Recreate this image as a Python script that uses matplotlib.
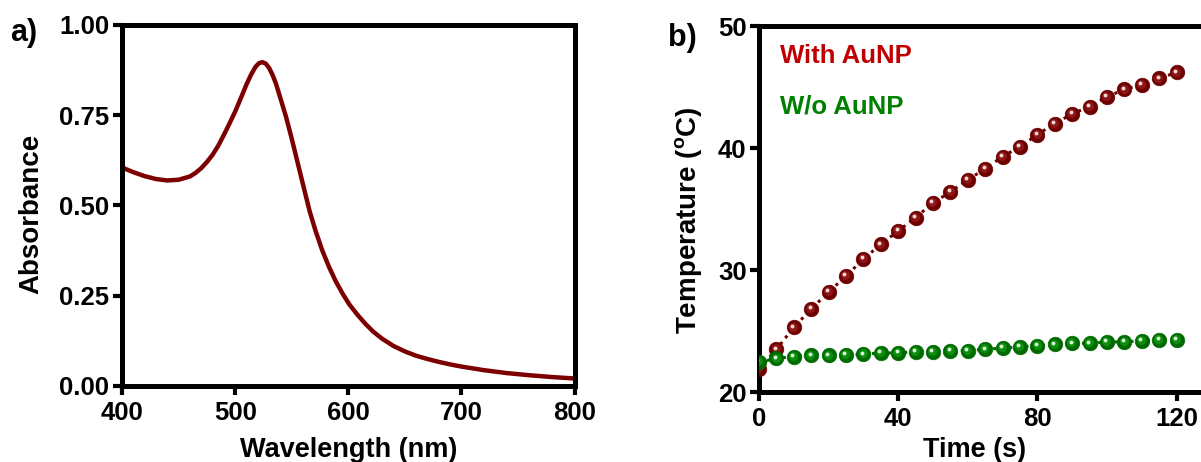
import matplotlib
matplotlib.use("Agg")
import matplotlib.pyplot as plt
import matplotlib.transforms as mtransforms

plt.rcParams['font.family'] = ['Liberation Sans', 'DejaVu Sans']
plt.rcParams['font.weight'] = 'bold'
plt.rcParams['mathtext.fontset'] = 'custom'
plt.rcParams['mathtext.rm'] = 'Liberation Sans:bold'

# ---------------- data ----------------
wavelength = [400, 410, 420, 430, 440, 450, 460, 465, 470, 475, 480, 485, 490, 495,
              500, 505, 510, 514, 518, 521, 524, 527, 530, 533, 536, 540, 545, 550,
              554, 558, 562, 566, 571, 577, 583, 589, 595, 601, 608, 615, 622, 630,
              640, 650, 660, 670, 680, 690, 700, 720, 740, 760, 780, 800]
absorbance = [0.605, 0.592, 0.581, 0.573, 0.569, 0.571, 0.580, 0.590, 0.603, 0.620,
              0.640, 0.665, 0.695, 0.727, 0.760, 0.797, 0.835, 0.862, 0.884, 0.894,
              0.897, 0.893, 0.881, 0.862, 0.838, 0.797, 0.745, 0.685, 0.634, 0.583,
              0.532, 0.482, 0.430, 0.375, 0.329, 0.289, 0.255, 0.225, 0.197, 0.172,
              0.150, 0.130, 0.110, 0.095, 0.083, 0.074, 0.066, 0.059, 0.053, 0.043,
              0.035, 0.029, 0.024, 0.020]

time_s = [0, 5, 10, 15, 20, 25, 30, 35, 40, 45, 50, 55, 60, 65, 70, 75, 80, 85,
          90, 95, 100, 105, 110, 115, 120]
temp_with = [21.9, 23.5, 25.3, 26.8, 28.2, 29.5, 30.9, 32.1, 33.2, 34.3, 35.5, 36.4,
             37.4, 38.3, 39.3, 40.1, 41.1, 42.0, 42.8, 43.4, 44.2, 44.8, 45.2, 45.7, 46.2]
temp_without = [22.45, 22.75, 22.9, 23.0, 23.0, 23.05, 23.1, 23.2, 23.2, 23.3, 23.3,
                23.4, 23.4, 23.5, 23.6, 23.7, 23.8, 23.9, 24.0, 24.0, 24.1, 24.1,
                24.2, 24.25, 24.25]

a_xticks = [400, 500, 600, 700, 800]
a_yticks = [0.00, 0.25, 0.50, 0.75, 1.00]
b_xticks = [0, 40, 80, 120]
b_yticks = [20, 30, 40, 50]

# ---------------- figure ----------------
W, H = 1201, 462
fig = plt.figure(figsize=(W / 100, H / 100), dpi=100)

def px_axes(l, r, t, b):
    return fig.add_axes([l / W, (H - b) / H, (r - l) / W, (b - t) / H])

ax_a = px_axes(122, 574.6, 25, 385.7)
ax_b = px_axes(759, 1205, 26, 392)

for ax in (ax_a, ax_b):
    for s in ax.spines.values():
        s.set_linewidth(3.6)
    ax.tick_params(direction='out', length=6.5, width=3, labelsize=18.5,
                   top=False, right=False)
    ax.tick_params(axis='x', pad=4.5)
    ax.tick_params(axis='y', pad=2.5)

# Panel a
ax_a.plot(wavelength, absorbance, color='#7d0000', lw=3.2,
          solid_joinstyle='round', solid_capstyle='butt')
ax_a.set_xlim(400, 800)
ax_a.set_ylim(0, 1)
ax_a.set_xticks(a_xticks)
ax_a.set_yticks(a_yticks)
ax_a.set_yticklabels([f"{v:.2f}" for v in a_yticks])
ax_a.set_xlabel('Wavelength (nm)', fontsize=19.5, fontweight='bold', va='top')
ax_a.set_ylabel('Absorbance', fontsize=20, fontweight='bold')
ax_a.xaxis.set_label_coords(0.5, (385.7 - 437) / 360.7)
ax_a.yaxis.set_label_coords((44 - 122) / 452.6, 0.476)

# Panel b
ax_b.spines['right'].set_visible(False)
ax_b.set_xlim(0, 446 / 3.48)
ax_b.set_ylim(20, 50)
ax_b.set_xticks(b_xticks)
ax_b.set_yticks(b_yticks)


def sphere(ax, x, y, dark, mid, light, z):
    ax.plot(x, y, ls=':', color=dark, lw=2.2, zorder=z)
    ax.plot(x, y, ls='none', marker='o', ms=10.5, mfc=dark, mec=dark, mew=0.5, zorder=z + 0.1)
    off1 = mtransforms.offset_copy(ax.transData, fig=fig, x=-0.6, y=0.6, units='points')
    ax.plot(x, y, ls='none', marker='o', ms=6.5, mfc=mid, mec='none', zorder=z + 0.2,
            transform=off1)
    off2 = mtransforms.offset_copy(ax.transData, fig=fig, x=-1.2, y=1.2, units='points')
    ax.plot(x, y, ls='none', marker='o', ms=2.8, mfc=light, mec='none', zorder=z + 0.3,
            transform=off2)

sphere(ax_b, time_s, temp_with, '#6e0000', '#8e1616', '#f2d6d6', 3)
sphere(ax_b, time_s, temp_without, '#006a00', '#0c8f0c', '#d8f2d8', 4)

ax_b.set_xlabel('Time (s)', fontsize=19.5, fontweight='bold', va='top')
ax_b.set_ylabel(r'Temperature ($\mathregular{^o}$C)', fontsize=20, fontweight='bold')
ax_b.xaxis.set_label_coords((975 - 759) / 446, (392 - 437) / 366)
ax_b.yaxis.set_label_coords((704 - 759) / 446, 0.47)

fig.text(780 / W, 1 - 56 / H, 'With AuNP', color='#c00000', fontsize=18.5,
         fontweight='bold', ha='left', va='center')
fig.text(780 / W, 1 - 106 / H, 'W/o AuNP', color='#008000', fontsize=18.5,
         fontweight='bold', ha='left', va='center')

fig.text(10 / W, 1 - 33 / H, 'a)', fontsize=22, fontweight='bold', ha='left', va='center')
fig.text(668 / W, 1 - 38 / H, 'b)', fontsize=22, fontweight='bold', ha='left', va='center')

fig.savefig('out.png', dpi=100)
